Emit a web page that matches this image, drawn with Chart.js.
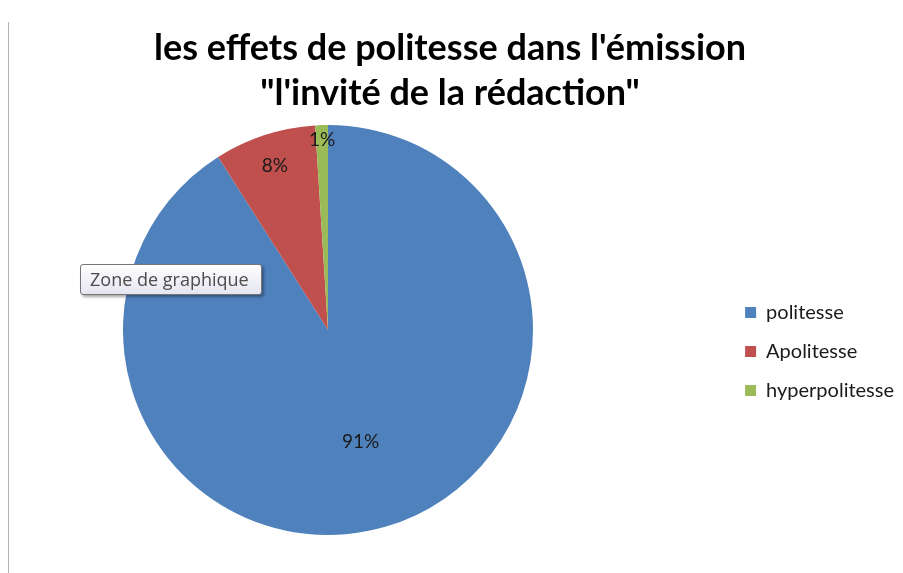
<!DOCTYPE html>
<html>
<head>
<meta charset="utf-8">
<script src="https://cdn.jsdelivr.net/npm/chart.js@4/dist/chart.umd.min.js"></script>
<style>
    html, body { margin: 0; padding: 0; background: #fff; }
    #wrap { position: relative; width: 903px; height: 573px; overflow: hidden; }
    #frameLine { position: absolute; left: 8px; top: 22px; width: 1px; height: 560px; background: #b3b3b3; }
    #zoneTip {
        position: absolute; left: 80px; top: 264px; width: 182px; height: 31px;
        box-sizing: border-box; border: 1px solid #767676; border-radius: 3px;
        background: linear-gradient(#ffffff, #e4e5f0);
        box-shadow: 2px 2px 3px rgba(0,0,0,0.35);
        font-family: "Open Sans", sans-serif; font-size: 18px; color: #4c4c4c;
        line-height: 29px; padding-left: 9px; white-space: nowrap;
    }
</style>
</head>
<body>
<div id="wrap">
    <canvas id="pieChart" width="903" height="573"></canvas>
    <div id="frameLine"></div>
    <div id="zoneTip">Zone de graphique</div>
</div>
<script>
    // Data
    const categories = ["politesse", "Apolitesse", "hyperpolitesse"];
    const shares = [91, 8, 1];
    const titleLines = ["les effets de politesse dans l'émission", "\"l'invité de la rédaction\""];

    // Excel 2007 palette
    const COLORS = {
        blue:  "#4F81BD",
        red:   "#C0504D",
        green: "#9BBB59",
        text:  "#1a1a1a"
    };

    // Excel puts each label at its own "best fit" distance from the centre
    const labelRadius = [0.57, 0.84, 0.93];

    const PIE_CENTER_X = 328;
    const LEGEND_SHIFT_Y = 84;
    const LEGEND_SHIFT_X = 4;

    // Percent labels drawn on the slices
    const sliceLabels = {
        id: "sliceLabels",
        afterDatasetsDraw(chart) {
            const ctx = chart.ctx;
            const arcs = chart.getDatasetMeta(0).data;
            ctx.save();
            ctx.font = "19px Lato, sans-serif";
            ctx.fillStyle = COLORS.text;
            ctx.textAlign = "center";
            ctx.textBaseline = "middle";
            arcs.forEach((arc, i) => {
                const p = arc.getProps(["x", "y", "startAngle", "endAngle", "outerRadius"], true);
                const mid = (p.startAngle + p.endAngle) / 2;
                const r = p.outerRadius * labelRadius[i];
                ctx.fillText(shares[i] + "%", p.x + Math.cos(mid) * r, p.y + Math.sin(mid) * r);
            });
            ctx.restore();
        }
    };

    // Pie sits left of the legend, legend rows a bit below the middle
    const excelLayout = {
        id: "excelLayout",
        afterLayout(chart) {
            const area = chart.chartArea;
            area.right = 2 * PIE_CENTER_X - area.left;
            area.width = area.right - area.left;
            if (chart.legend) {
                chart.legend.top += LEGEND_SHIFT_Y;
                chart.legend.bottom += LEGEND_SHIFT_Y;
                chart.legend.left += LEGEND_SHIFT_X;
                chart.legend.right += LEGEND_SHIFT_X;
            }
        }
    };

    new Chart(document.getElementById("pieChart"), {
        type: "pie",
        data: {
            labels: categories,
            datasets: [{
                data: shares,
                backgroundColor: [COLORS.blue, COLORS.red, COLORS.green],
                borderWidth: 0
            }]
        },
        options: {
            responsive: false,
            animation: false,
            events: [],
            layout: { padding: { left: 0, right: 3, top: 0, bottom: 38 } },
            plugins: {
                title: {
                    display: true,
                    text: titleLines,
                    color: "#000",
                    font: { family: "Lato, sans-serif", size: 36, weight: "bold", lineHeight: 1.25 },
                    padding: { top: 26, bottom: 9 }
                },
                legend: {
                    position: "right",
                    labels: {
                        color: COLORS.text,
                        font: { family: "Lato, sans-serif", size: 20 },
                        boxWidth: 11,
                        boxHeight: 11,
                        padding: 19
                    }
                },
                tooltip: { enabled: false }
            }
        },
        plugins: [excelLayout, sliceLabels]
    });
</script>
</body>
</html>
